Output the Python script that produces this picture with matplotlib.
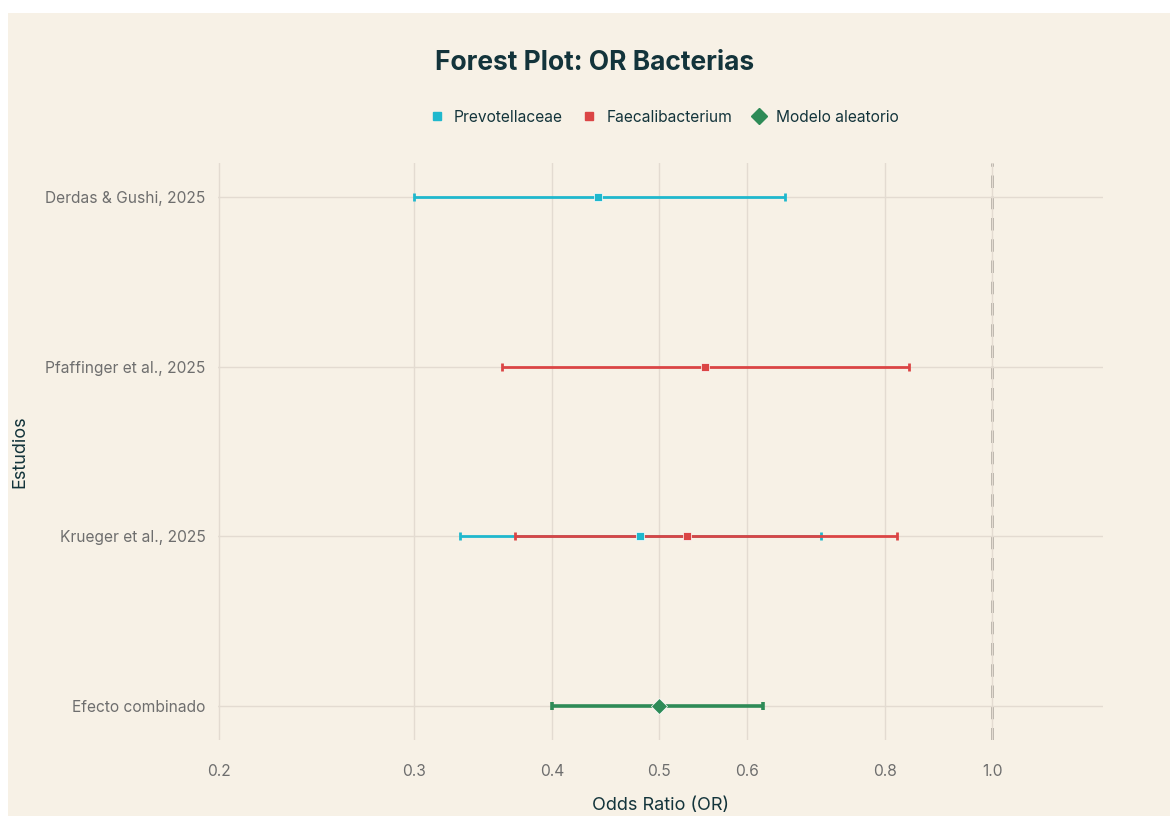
import numpy as np
import matplotlib.pyplot as plt
from matplotlib.patches import Rectangle
from matplotlib.lines import Line2D

plt.rcParams['font.family'] = ['Inter', 'DejaVu Sans']

# Data
studies = ['Derdas & Gushi, 2025', 'Pfaffinger et al., 2025', 'Krueger et al., 2025', 'Efecto combinado']
y_pos = [3, 2, 1, 0]

# Prevotellaceae (Derdas, Krueger)
prev_y = [3, 1]
prev_or = [0.44, 0.48]
prev_lo = [0.30, 0.33]
prev_hi = [0.65, 0.70]

# Faecalibacterium (Pfaffinger, Krueger)
faec_y = [2, 1]
faec_or = [0.55, 0.53]
faec_lo = [0.36, 0.37]
faec_hi = [0.84, 0.82]

# Random effects model
comb_y = [0]
comb_or = [0.50]
comb_lo = [0.40]
comb_hi = [0.62]

xticks = [0.2, 0.3, 0.4, 0.5, 0.6, 0.8, 1.0]
xtick_labels = ['0.2', '0.3', '0.4', '0.5', '0.6', '0.8', '1.0']

bg = '#F7F1E6'
teal = '#1FB8CD'
red = '#DB4545'
green = '#2E8B57'
dark = '#13343B'
gray = '#6E6E6E'

fig = plt.figure(figsize=(11.7, 8.19), dpi=100)
fig.patch.set_facecolor('white')
fig.add_artist(Rectangle((8 / 1170, 0.004), 1 - 8 / 1170, 1 - 13 / 819 - 0.004,
                         transform=fig.transFigure, facecolor=bg, edgecolor='none', zorder=-10))

ax = fig.add_axes([218 / 1170, 1 - 740 / 819, (1103 - 218) / 1170, (740 - 163) / 819])
ax.set_facecolor(bg)
ax.set_xscale('log')
ax.set_xlim(10 ** -0.7, 10 ** 0.1)
ax.set_ylim(-0.2, 3.2)

for s in ax.spines.values():
    s.set_visible(False)

ax.set_xticks(xticks)
ax.set_xticklabels(xtick_labels)
ax.xaxis.set_minor_locator(plt.NullLocator())
ax.set_yticks(y_pos)
ax.set_yticklabels(studies)
ax.tick_params(axis='both', length=0, labelsize=11.2, labelcolor=gray)
ax.tick_params(axis='x', pad=17)
ax.tick_params(axis='y', pad=9)
ax.grid(True, color='#E3DBD1', lw=1.0, zorder=0)

ax.axvline(1.0, color='#A39C95', lw=1.8, ls=(0, (5, 3.5)), zorder=1)


def draw(ys, est, lo, hi, color, marker, ms, lw):
    est = np.array(est)
    err = [est - np.array(lo), np.array(hi) - est]
    ax.errorbar(est, ys, xerr=err, fmt='none', ecolor=color, elinewidth=lw,
                capsize=3, capthick=lw, zorder=3)
    ax.plot(est, ys, marker=marker, ls='none', color=color, ms=ms,
            mec='white', mew=0.5, zorder=4)


draw(prev_y, prev_or, prev_lo, prev_hi, teal, 's', 6, 2)
draw(faec_y, faec_or, faec_lo, faec_hi, red, 's', 6, 2)
draw(comb_y, comb_or, comb_lo, comb_hi, green, 'D', 8.5, 2.6)

ax.set_xlabel('Odds Ratio (OR)', fontsize=13, color=dark)
ax.xaxis.set_label_coords(0.5, (740 - 805) / (740 - 163), transform=ax.transAxes)
ax.xaxis.label.set_va('center')
ax.set_ylabel('Estudios', fontsize=13, color=dark)
ax.yaxis.set_label_coords((20 - 218) / (1103 - 218), 0.5)
ax.yaxis.label.set_va('center')

fig.text(595 / 1170, 1 - 63 / 819, 'Forest Plot: OR Bacterias', ha='center', va='center',
         fontsize=19, fontweight='bold', color=dark)

handles = [
    Line2D([], [], ls='none', marker='s', color=teal, ms=6, label='Prevotellaceae'),
    Line2D([], [], ls='none', marker='s', color=red, ms=6, label='Faecalibacterium'),
    Line2D([], [], ls='none', marker='D', color=green, ms=8, label='Modelo aleatorio'),
]
leg = fig.legend(handles=handles, loc='center', bbox_to_anchor=(663 / 1170, 1 - 117 / 819),
                 ncol=3, frameon=False, fontsize=11.2, handletextpad=0.5, columnspacing=1.1,
                 handlelength=1.2)
for t in leg.get_texts():
    t.set_color(dark)

fig.savefig('out.png', dpi=100, facecolor=fig.get_facecolor())
